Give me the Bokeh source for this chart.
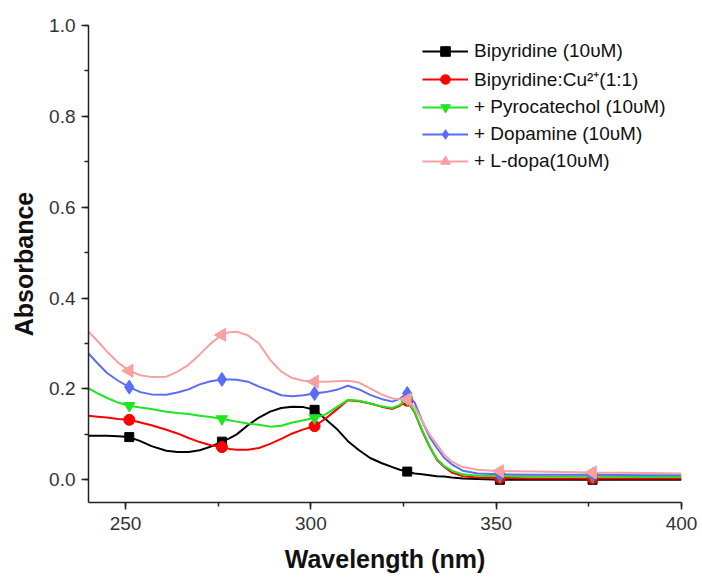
import numpy as np
from bokeh.plotting import figure
from bokeh.models import SingleIntervalTicker, PrintfTickFormatter, Legend, Range1d
from bokeh.embed import file_html
from bokeh.resources import INLINE

# ---- data ----
wavelength = [240, 242.5, 245, 248, 251, 254, 257, 261, 264, 267, 270, 273, 276, 278, 280,
              283, 286, 289, 292, 295, 298, 301, 304, 307, 310, 313, 316, 319, 322, 324,
              326, 328, 330, 332, 334, 336, 338, 341, 345, 351, 360, 376, 390, 400]
marker_wl = [251, 276, 301, 326, 351, 376]

bipyridine = [0.097, 0.097, 0.097, 0.096, 0.094, 0.085, 0.074, 0.064, 0.061, 0.061, 0.065,
              0.073, 0.084, 0.091, 0.100, 0.120, 0.137, 0.150, 0.158, 0.161, 0.160, 0.154,
              0.133, 0.112, 0.085, 0.065, 0.048, 0.037, 0.028, 0.022, 0.018, 0.014, 0.012,
              0.010, 0.008, 0.007, 0.005, 0.003, 0.002, 0.0, 0.0, 0.0, 0.0, 0.0]
bipy_cu = [0.141, 0.139, 0.137, 0.134, 0.132, 0.126, 0.120, 0.110, 0.102, 0.092, 0.083,
           0.076, 0.072, 0.068, 0.066, 0.066, 0.070, 0.079, 0.090, 0.102, 0.111, 0.118,
           0.135, 0.155, 0.175, 0.173, 0.168, 0.161, 0.156, 0.163, 0.174, 0.148, 0.108,
           0.073, 0.044, 0.028, 0.016, 0.008, 0.005, 0.004, 0.003, 0.003, 0.003, 0.003]
pyrocatechol = [0.201, 0.190, 0.180, 0.170, 0.163, 0.159, 0.156, 0.150, 0.147, 0.145, 0.141,
                0.138, 0.134, 0.131, 0.128, 0.124, 0.121, 0.117, 0.119, 0.126, 0.131, 0.136,
                0.144, 0.160, 0.176, 0.174, 0.168, 0.162, 0.158, 0.165, 0.177, 0.150, 0.110,
                0.075, 0.046, 0.030, 0.020, 0.012, 0.009, 0.008, 0.007, 0.007, 0.006, 0.006]
dopamine = [0.278, 0.256, 0.235, 0.218, 0.204, 0.193, 0.188, 0.187, 0.192, 0.199, 0.210,
            0.217, 0.221, 0.221, 0.220, 0.216, 0.205, 0.196, 0.186, 0.184, 0.186, 0.190,
            0.193, 0.198, 0.207, 0.199, 0.187, 0.178, 0.172, 0.178, 0.190, 0.170, 0.130,
            0.095, 0.070, 0.048, 0.034, 0.020, 0.014, 0.012, 0.011, 0.011, 0.010, 0.010]
ldopa = [0.326, 0.305, 0.282, 0.258, 0.240, 0.230, 0.226, 0.227, 0.238, 0.253, 0.276,
         0.300, 0.319, 0.325, 0.326, 0.318, 0.300, 0.264, 0.238, 0.224, 0.218, 0.216,
         0.216, 0.217, 0.218, 0.214, 0.201, 0.188, 0.179, 0.177, 0.177, 0.160, 0.130,
         0.100, 0.078, 0.055, 0.040, 0.028, 0.022, 0.019, 0.018, 0.016, 0.015, 0.014]

labels = ["Bipyridine (10υM)", "Bipyridine:Cu²⁺(1:1)", "+ Pyrocatechol (10υM)",
          "+ Dopamine (10υM)", "+ L-dopa(10υM)"]
series = [bipyridine, bipy_cu, pyrocatechol, dopamine, ldopa]
colors = ["#000000", "#ff0000", "#1ee61e", "#5b6cf5", "#f7a0a0"]
markers = ["square", "circle", "inverted_triangle", "diamond", "triangle"]
msizes = [9, 11, 11, 14, 13]
angles = [0, 0, 0, 0, np.pi / 2]

p = figure(width=702, height=578, output_backend="svg", toolbar_location=None,
           x_range=Range1d(240, 400), y_range=Range1d(-0.05, 1.0),
           min_border_left=88, min_border_right=21, min_border_top=25, min_border_bottom=76)
p.outline_line_color = None
p.xgrid.visible = False
p.ygrid.visible = False
p.background_fill_color = "white"

idx = [wavelength.index(w) for w in marker_wl]
items = []
for ys, lab, c, m, s, a in zip(series, labels, colors, markers, msizes, angles):
    r1 = p.line(wavelength, ys, line_color=c, line_width=2)
    r2 = p.scatter([wavelength[i] for i in idx], [ys[i] for i in idx], marker=m, size=s,
                   angle=a, fill_color=c, line_color=c)
    items.append((lab, [r1, r2]))

legend = Legend(items=items, location=(334, 329), border_line_color=None,
                background_fill_alpha=0, label_text_font="Liberation Sans",
                label_text_font_size="19px", label_text_color="#111111",
                glyph_width=46, glyph_height=24, label_height=24, spacing=3,
                label_standoff=6, padding=5)
p.add_layout(legend)

for ax in (p.xaxis[0], p.yaxis[0]):
    ax.axis_line_width = 1.5
    ax.axis_line_color = "#222222"
    ax.major_tick_line_color = "#222222"
    ax.minor_tick_line_color = "#222222"
    ax.major_tick_line_width = 1.5
    ax.minor_tick_line_width = 1.5
    ax.major_tick_in = 0
    ax.major_tick_out = 7
    ax.minor_tick_in = 0
    ax.minor_tick_out = 4
    ax.major_label_text_font = "Liberation Sans"
    ax.major_label_text_font_size = "19px"
    ax.major_label_text_color = "#333333"
    ax.axis_label_text_font = "Liberation Sans"
    ax.axis_label_text_font_size = "25px"
    ax.axis_label_text_font_style = "bold"
    ax.axis_label_text_color = "#111111"

p.xaxis.ticker = SingleIntervalTicker(interval=50, num_minor_ticks=2)
p.yaxis.ticker = SingleIntervalTicker(interval=0.2, num_minor_ticks=2)
p.yaxis.formatter = PrintfTickFormatter(format="%.1f")
p.xaxis.axis_label = "Wavelength (nm)"
p.yaxis.axis_label = "Absorbance"
p.xaxis.major_label_standoff = 7
p.yaxis.major_label_standoff = 6
p.xaxis.axis_label_standoff = 12
p.yaxis.axis_label_standoff = 8

open("out.html", "w").write(file_html(p, INLINE))
